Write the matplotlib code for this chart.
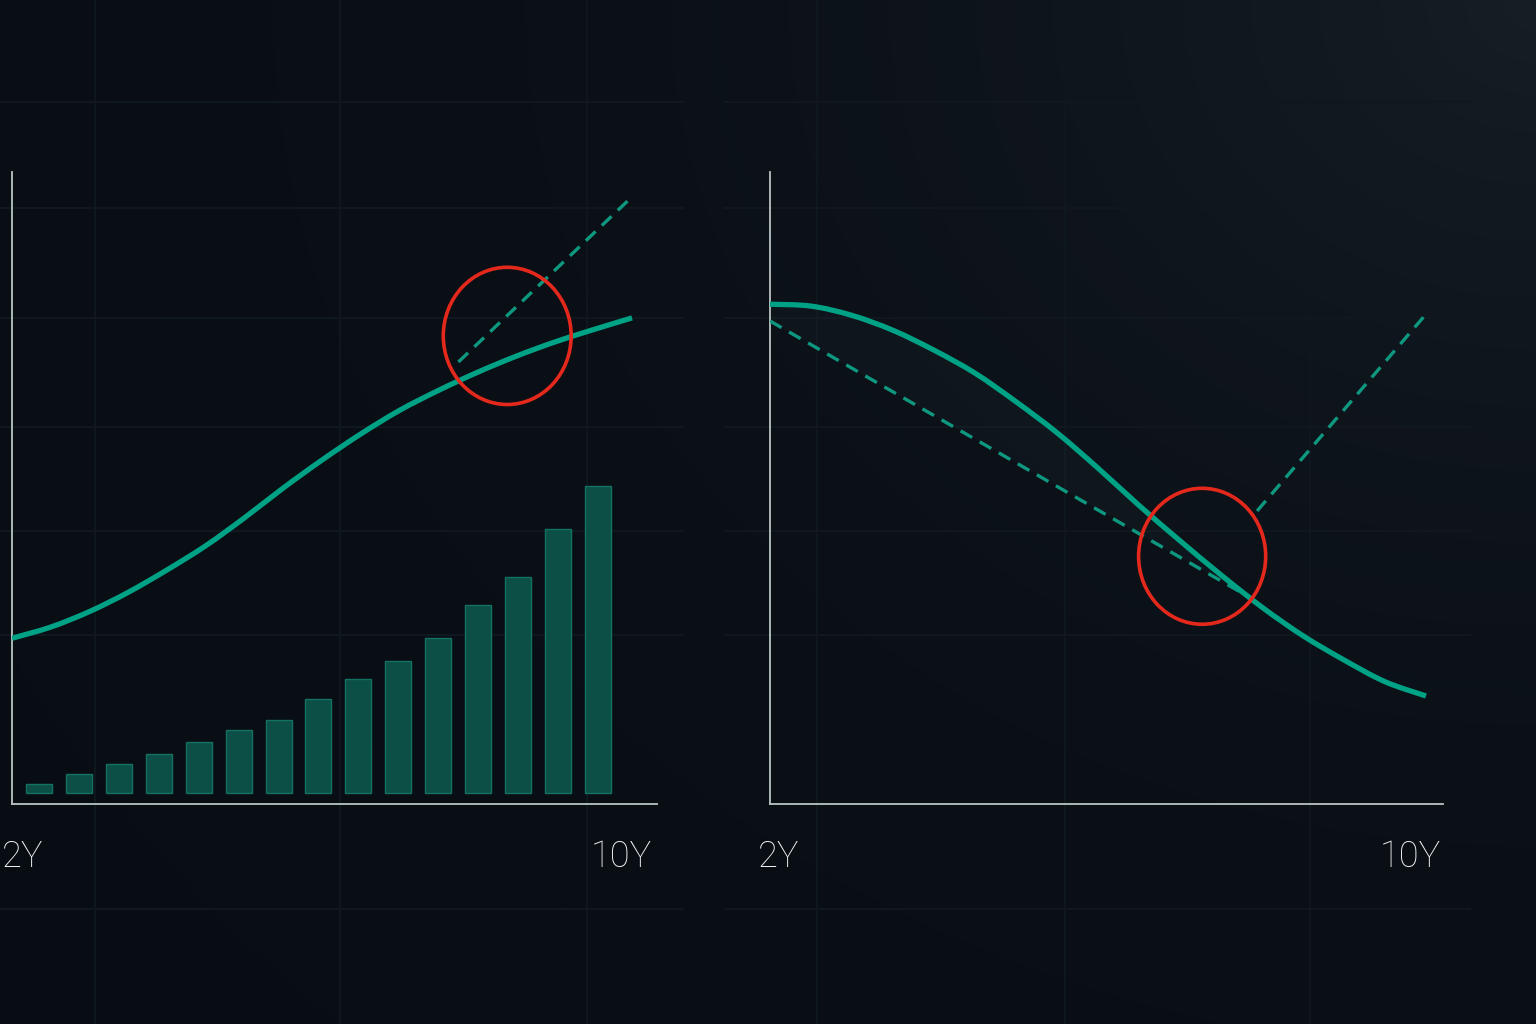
import numpy as np
import matplotlib
matplotlib.use("Agg")
import matplotlib.pyplot as plt
from matplotlib.patches import Ellipse, PathPatch
from matplotlib.path import Path
from matplotlib.colors import to_rgb

# ---------------- data ----------------
years_half = [2.0, 2.5, 3.0, 3.5, 4.0, 4.5, 5.0, 5.5, 6.0, 6.5, 7.0, 7.5, 8.0, 8.5, 9.0, 9.5, 10.0]

left_curve = [24.9, 26.7, 29.2, 32.3, 35.9, 39.8, 44.3, 49.1, 53.6, 57.8, 61.6, 64.8, 67.7, 70.3, 72.6, 74.6, 76.5]
left_dash_x = [7.76, 10.0]
left_dash_y = [69.4, 96.0]
left_bars = [1.45, 3.06, 4.67, 6.23, 8.2, 10.1, 11.8, 15.1, 18.3, 21.3, 24.9, 30.3, 34.7, 42.5, 49.5]

right_curve = [78.7, 78.4, 76.9, 74.5, 71.3, 67.6, 63.0, 58.0, 52.3, 46.3, 40.6, 35.1, 29.9, 25.3, 21.4, 17.9, 15.6]
right_dash1_x = [2.0, 7.82]
right_dash1_y = [76.0, 31.7]
right_dash2_x = [7.94, 10.0]
right_dash2_y = [45.4, 77.1]

# highlight circles: (center x, center y, width, height)
left_circle = (8.39, 73.6, 1.65, 22.1)
right_circle = (7.27, 38.1, 1.55, 21.9)

x_labels = ["2Y", "10Y"]

# ---------------- style ----------------
TEAL = "#00a285"
DASH = "#0e9880"
BAR_FACE = "#0b4f47"
BAR_EDGE = "#137262"
RED = "#e5281c"
SPINE = "#b9c4c4"
GRID = "#10181f"

W, H = 1536, 1024
fig = plt.figure(figsize=(W / 100, H / 100), dpi=100)

# background
bg = fig.add_axes([0, 0, 1, 1])
bg.set_xlim(0, W)
bg.set_ylim(H, 0)
bg.axis("off")
yy, xx = np.mgrid[0:H:4, 0:W:4]
d = np.sqrt((W - xx) ** 2 + (yy * 1.2) ** 2)
wgt = np.exp(-d / 650.0)
base = np.array(to_rgb("#080c13"))
corner = np.array(to_rgb("#161f25"))
img = base[None, None, :] + (corner - base)[None, None, :] * wgt[..., None]
bg.imshow(img, extent=(0, W, H, 0), aspect="auto", zorder=0, interpolation="bilinear")

for (x0, x1, vlines) in [(0, 683, [95, 340, 587]), (725, 1470, [817, 1065, 1310])]:
    for gy in [102, 208, 318, 427, 531, 635, 909]:
        bg.plot([x0, x1], [gy, gy], color=GRID, lw=1.6, zorder=1)
    for gx in vlines:
        bg.plot([gx, gx], [0, H], color=GRID, lw=1.4, zorder=1)

FONT = ["Roboto", "DejaVu Sans"]


def make_axes(px_left, px_right, px_per_year):
    top, bottom = 172, 804
    ax = fig.add_axes([px_left / W, (H - bottom) / H, (px_right - px_left) / W, (bottom - top) / H])
    ax.set_xlim(2, 2 + (px_right - px_left) / px_per_year)
    ax.set_ylim(-1.8, 100)
    ax.patch.set_alpha(0)
    for s in ["top", "right"]:
        ax.spines[s].set_visible(False)
    for s in ["left", "bottom"]:
        ax.spines[s].set_color(SPINE)
        ax.spines[s].set_linewidth(1.3)
    ax.set_xticks([])
    ax.set_yticks([])
    return ax


def smooth_line(ax, xs, ys, **kw):
    """Draw a smooth (Catmull-Rom / Bezier) line through the given points."""
    P = np.column_stack([xs, ys]).astype(float)
    n = len(P)
    verts = [P[0]]
    codes = [Path.MOVETO]
    for i in range(n - 1):
        p0 = P[i - 1] if i > 0 else P[i]
        p1, p2 = P[i], P[i + 1]
        p3 = P[i + 2] if i + 2 < n else P[i + 1]
        c1 = p1 + (p2 - p0) / 6.0
        c2 = p2 - (p3 - p1) / 6.0
        verts += [c1, c2, p2]
        codes += [Path.CURVE4] * 3
    ax.add_patch(PathPatch(Path(verts, codes), fill=False, **kw))


# ---------------- left chart ----------------
axL = make_axes(12, 657, 77.5)
bar_x = np.linspace(2.348, 9.561, len(left_bars))
axL.bar(bar_x, left_bars, width=0.335, color=BAR_FACE, edgecolor=BAR_EDGE, linewidth=1.0, zorder=2)
smooth_line(axL, years_half, left_curve, edgecolor=TEAL, lw=3.8, capstyle="butt", zorder=4)
axL.plot(left_dash_x, left_dash_y, color=DASH, lw=2.4, dashes=(4, 2.6), zorder=3)
axL.add_patch(Ellipse(left_circle[:2], left_circle[2], left_circle[3], fill=False,
                      edgecolor=RED, lw=2.6, zorder=5))

# ---------------- right chart ----------------
axR = make_axes(770, 1443, 82.0)
n_fill = len([x for x in years_half if x <= 7.8])
fx = list(years_half[:n_fill]) + [right_dash1_x[1], right_dash1_x[0]]
fy = list(right_curve[:n_fill]) + [right_dash1_y[1], right_dash1_y[0]]
axR.fill(fx, fy, color="#8fd8c8", alpha=0.025, lw=0, zorder=1)
smooth_line(axR, years_half, right_curve, edgecolor=TEAL, lw=3.8, capstyle="butt", zorder=4)
axR.plot(right_dash1_x, right_dash1_y, color=DASH, lw=2.4, dashes=(4, 2.6), zorder=3)
axR.plot(right_dash2_x, right_dash2_y, color=DASH, lw=2.4, dashes=(4, 2.6), zorder=3)
axR.add_patch(Ellipse(right_circle[:2], right_circle[2], right_circle[3], fill=False,
                      edgecolor=RED, lw=2.6, zorder=5))

# labels
for ax, l0, l1 in [(axL, -0.0155, 0.992), (axR, -0.0178, 0.997)]:
    ax.text(l0, -0.0997, x_labels[0], transform=ax.transAxes, ha="left", va="baseline",
            fontsize=26, fontweight="light", color="#f2f4f4", family=FONT, clip_on=False)
    ax.text(l1, -0.0997, x_labels[1], transform=ax.transAxes, ha="right", va="baseline",
            fontsize=26, fontweight="light", color="#f2f4f4", family=FONT, clip_on=False)

fig.savefig("out.png", dpi=100)
